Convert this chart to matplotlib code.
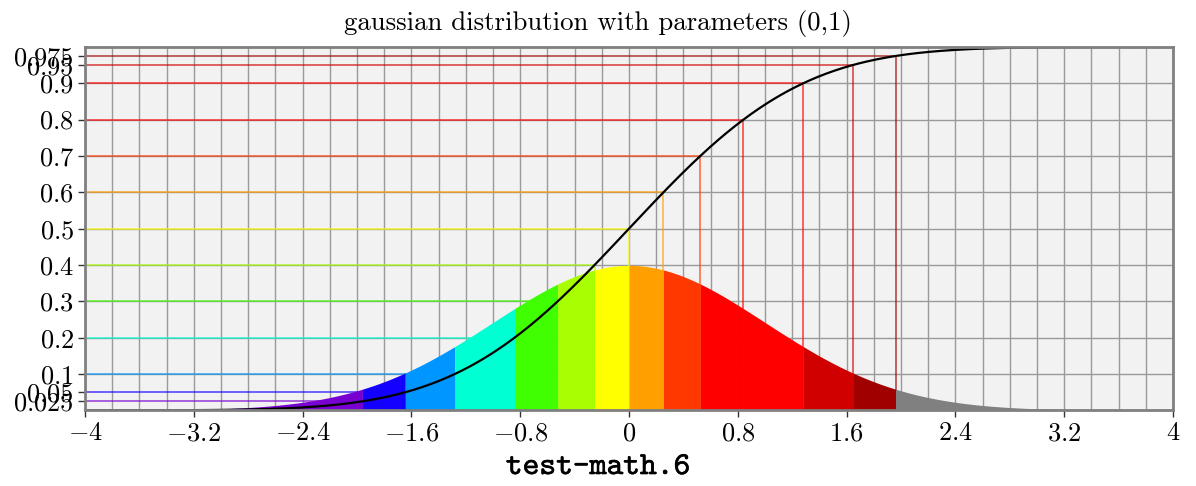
import math
import numpy as np
import matplotlib
matplotlib.use('Agg')
import matplotlib.pyplot as plt
import matplotlib.patheffects as pe

# gaussian parameters (mean, standard deviation)
mu = 0.0
sigma = 1.0

# probability levels and the matching quantiles
levels = [0.025, 0.05, 0.1, 0.2, 0.3, 0.4, 0.5, 0.6, 0.7, 0.8, 0.9, 0.95, 0.975]
quantiles = [-1.96, -1.645, -1.2816, -0.8416, -0.5244, -0.2533, 0.0,
             0.2533, 0.5244, 0.8416, 1.2816, 1.645, 1.96]
level_colors = ['#7800d0', '#1400ff', '#0096ff', '#00ffd2', '#40ff00', '#a8ff00',
                '#ffff00', '#ffa000', '#ff3800', '#ff0000', '#ff0000', '#d00000', '#a00000']
tail_color = '#808080'

xticks = [-4, -3.2, -2.4, -1.6, -0.8, 0, 0.8, 1.6, 2.4, 3.2, 4]
xlabels = ['$-4$', '$-3.2$', '$-2.4$', '$-1.6$', '$-0.8$', '$0$', '$0.8$',
           '$1.6$', '$2.4$', '$3.2$', '$4$']
yticks = [0.025, 0.05, 0.1, 0.2, 0.3, 0.4, 0.5, 0.6, 0.7, 0.8, 0.9, 0.95, 0.975]
ylabels = ['$0.025$', '$0.05$', '$0.1$', '$0.2$', '$0.3$', '$0.4$', '$0.5$',
           '$0.6$', '$0.7$', '$0.8$', '$0.9$', '$0.95$', '$0.975$']

plt.rcParams['mathtext.fontset'] = 'cm'
plt.rcParams['font.family'] = 'serif'
plt.rcParams['font.serif'] = ['cmr10']
plt.rcParams['axes.unicode_minus'] = False


def pdf(x):
    return np.exp(-0.5 * ((x - mu) / sigma) ** 2) / (sigma * math.sqrt(2 * math.pi))


def cdf(x):
    return 0.5 * (1 + np.vectorize(math.erf)((x - mu) / (sigma * math.sqrt(2))))


fig = plt.figure(figsize=(11.96, 4.86), dpi=100)
ax = fig.add_axes([85 / 1196, 1 - 410.4 / 486, 1088 / 1196, 363.5 / 486])
ax.set_facecolor('#f2f2f2')
ax.set_xlim(-4, 4)
ax.set_ylim(0, 1)

# grid
for gx in np.arange(-4, 4.01, 0.2):
    ax.axvline(gx, color='#9a9a9a', lw=1.0, zorder=1)
for gy in np.arange(0, 1.01, 0.1):
    ax.axhline(gy, color='#9a9a9a', lw=1.0, zorder=1)

# guide lines: level on the y axis -> cdf -> down to the x axis
for p, q, c in zip(levels, quantiles, level_colors):
    ax.plot([-4, q], [p, p], color=c, lw=1.3, alpha=0.65, zorder=2)
    ax.plot([q, q], [p, 0], color=c, lw=1.3, alpha=0.65, zorder=2)

# coloured slices of the density
edges = [-4] + quantiles + [4]
fills = level_colors + [tail_color]
for a, b, c in zip(edges[:-1], edges[1:], fills):
    xs = np.linspace(a, b, 200)
    ax.fill_between(xs, 0, pdf(xs), color=c, lw=0, zorder=3)

# cumulative distribution
xc = np.linspace(-4, 4, 800)
ax.plot(xc, cdf(xc), color='black', lw=1.6, zorder=4)

ax.set_xticks(xticks)
ax.set_xticklabels(xlabels, fontsize=19)
ax.set_yticks(yticks)
ax.set_yticklabels(ylabels, fontsize=19)
ax.tick_params(direction='out', length=5, width=1, color='#333333', pad=3)
for s in ax.spines.values():
    s.set_color('#808080')
    s.set_linewidth(2)
    s.set_zorder(5)

fig.text(0.5, 0.952, 'gaussian distribution with parameters (0,1)',
         ha='center', va='center', fontsize=19.3)
fig.text(0.5, 0.037, 'test-math.6', ha='center', va='center', fontsize=23,
         family='cmtt10', path_effects=[pe.withStroke(linewidth=0.4, foreground='black')])

fig.savefig('out.png', dpi=100)
